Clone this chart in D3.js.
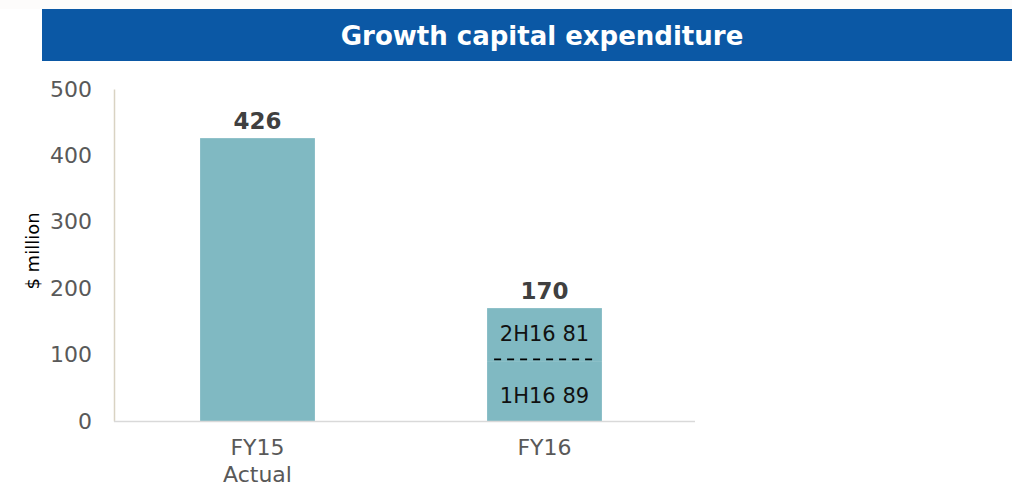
<!DOCTYPE html>
<html><head><meta charset="utf-8">
<script src="https://cdn.jsdelivr.net/npm/d3@7"></script>
<style>body{margin:0;background:#fff}svg{display:block}</style>
</head><body><svg id="c" width="1012" height="487"></svg>
<script>
const categories = ["FY15|Actual", "FY16"];
const totals = [426, 170];
const fy16Halves = [{label: "1H16", value: 89}, {label: "2H16", value: 81}];
const yTicks = [0, 100, 200, 300, 400, 500];
const title = "Growth capital expenditure";
const yLabel = "$ million";

const svg = d3.select("#c");
const font = "'DejaVu Sans', Verdana, sans-serif";
svg.append("rect").attr("x",0).attr("y",0).attr("width",1012).attr("height",9).attr("fill","#fdfcfb");
svg.append("rect").attr("x",42).attr("y",9).attr("width",970).attr("height",52).attr("fill","#0B58A5");
svg.append("text").attr("x",542).attr("y",45).attr("text-anchor","middle")
  .attr("font-family",font).attr("font-weight","bold").attr("font-size",26).attr("fill","#fff").text(title);

const y = d3.scaleLinear().domain([0,500]).range([421,89]);
const x = d3.scaleBand().domain(categories).range([114,688]).paddingInner(0.6).paddingOuter(0.3);
const barColor = "#80B9C2";

// y axis
const ya = svg.append("g").attr("transform","translate(114,0)").call(d3.axisLeft(y).tickValues(yTicks).tickSize(0).tickPadding(22));
ya.select(".domain").attr("stroke","#D9D3C3").attr("stroke-width",1.5);
ya.selectAll("text").attr("font-family",font).attr("font-size",22).attr("fill","#595959");

// bars
svg.append("rect").attr("x",x(categories[0])).attr("width",x.bandwidth())
  .attr("y",y(totals[0])).attr("height",y(0)-y(totals[0])).attr("fill",barColor);
// stacked halves for FY16
let cum = 0;
const stacks = fy16Halves.map(d => { const s = {...d, y0: cum, y1: cum + d.value}; cum += d.value; return s; });
svg.selectAll(".seg").data(stacks).enter().append("rect")
  .attr("x",x(categories[1])).attr("width",x.bandwidth())
  .attr("y",d=>y(d.y1)).attr("height",d=>y(d.y0)-y(d.y1)).attr("fill",barColor);
svg.append("line").attr("x1",x(categories[1])+7).attr("x2",x(categories[1])+x.bandwidth()-7)
  .attr("y1",y(stacks[0].y1)-2.5).attr("y2",y(stacks[0].y1)-2.5)
  .attr("stroke","#000").attr("stroke-width",1.6).attr("stroke-dasharray","7,6");
svg.selectAll(".segl").data(stacks).enter().append("text")
  .attr("x",x(categories[1])+x.bandwidth()/2)
  .attr("y",(d,i)=> i===0 ? (y(d.y0)+y(d.y1))/2 + 12 : (y(d.y0)+y(d.y1))/2 + 6)
  .attr("text-anchor","middle").attr("font-family",font).attr("font-size",21).attr("fill","#111")
  .text(d=>d.label+" "+d.value);

// x axis line
svg.append("line").attr("x1",114).attr("x2",695).attr("y1",421.5).attr("y2",421.5).attr("stroke","#D9D9D9").attr("stroke-width",1.5);

// value labels
svg.selectAll(".vl").data(totals).enter().append("text")
  .attr("x",(d,i)=>x(categories[i])+x.bandwidth()/2).attr("y",d=>y(d)-9)
  .attr("text-anchor","middle").attr("font-family",font).attr("font-weight","bold").attr("font-size",23).attr("fill","#404040")
  .text(d=>d);

// category labels
categories.forEach(c => {
  const t = svg.append("text").attr("x",x(c)+x.bandwidth()/2).attr("y",455)
    .attr("text-anchor","middle").attr("font-family",font).attr("font-size",22).attr("fill","#595959");
  c.split("|").forEach((line,i)=> t.append("tspan").attr("x",x(c)+x.bandwidth()/2).attr("dy", i===0?0:27).text(line));
});

// y label
svg.append("text").attr("transform","translate(39,251) rotate(-90)").attr("text-anchor","middle")
  .attr("font-family",font).attr("font-size",18).attr("fill","#000").text(yLabel);
</script></body></html>
